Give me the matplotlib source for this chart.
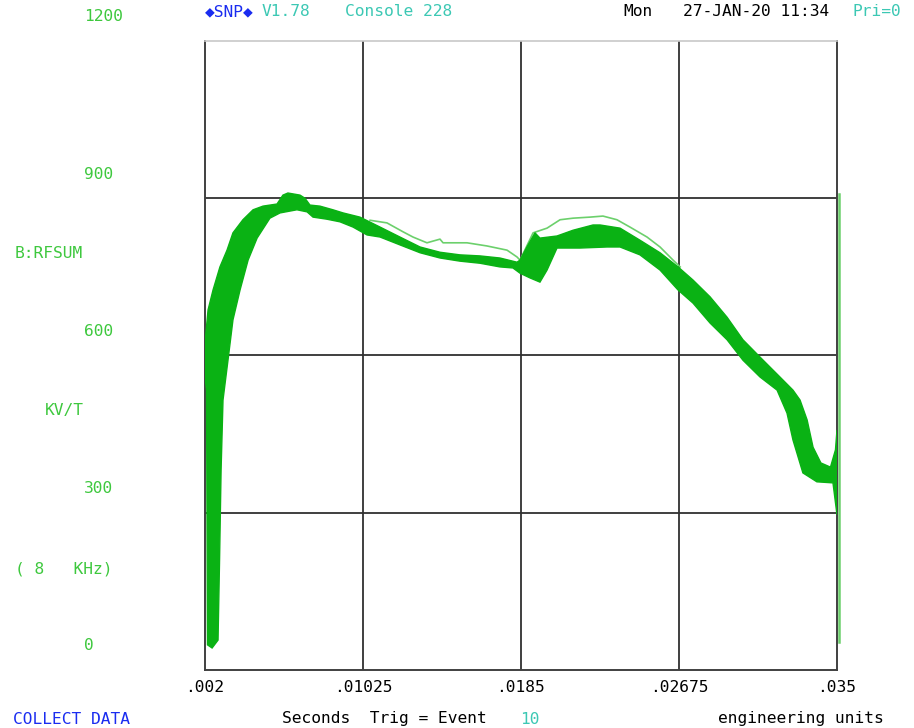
import matplotlib
matplotlib.use("Agg")
import matplotlib.pyplot as plt
from matplotlib.transforms import blended_transform_factory, offset_copy

# ---- data -------------------------------------------------------------
# envelope of the overlaid B:RFSUM traces (seconds, kV/T)
upper_t = [0.00200, 0.00216, 0.00242, 0.00278, 0.00315, 0.00346, 0.00398, 0.00451,
           0.00503, 0.00576, 0.00607, 0.00633, 0.00696, 0.00722, 0.00748, 0.00800,
           0.00868, 0.00921, 0.01009, 0.01114, 0.01218, 0.01323, 0.01427, 0.01531,
           0.01636, 0.01740, 0.01829, 0.01845, 0.01881, 0.01923, 0.01949, 0.02038,
           0.02122, 0.02226, 0.02263, 0.02367, 0.02471, 0.02576, 0.02670, 0.02748,
           0.02837, 0.02926, 0.03009, 0.03098, 0.03202, 0.03270, 0.03307, 0.03344,
           0.03375, 0.03416, 0.03466, 0.03492, 0.03500]
upper_v = [624, 687, 725, 769, 801, 834, 859, 878,
           885, 889, 906, 910, 906, 900, 887, 885,
           878, 872, 864, 845, 826, 807, 797, 792,
           790, 786, 778, 782, 807, 834, 824, 828,
           839, 849, 849, 843, 820, 796, 769, 744,
           712, 673, 630, 597, 559, 534, 515, 477,
           425, 395, 387, 420, 458]

lower_t = [0.00200, 0.00208, 0.00213, 0.00237, 0.00268, 0.00276, 0.00284, 0.00294,
           0.00320, 0.00346, 0.00383, 0.00425, 0.00472, 0.00539, 0.00592, 0.00680,
           0.00733, 0.00764, 0.00837, 0.00905, 0.00973, 0.01046, 0.01114, 0.01218,
           0.01323, 0.01427, 0.01531, 0.01636, 0.01740, 0.01808, 0.01845, 0.01897,
           0.01949, 0.01986, 0.02038, 0.02158, 0.02299, 0.02367, 0.02471, 0.02576,
           0.02670, 0.02748, 0.02837, 0.02926, 0.03009, 0.03098, 0.03187, 0.03239,
           0.03270, 0.03322, 0.03395, 0.03479, 0.03500]
lower_v = [559, 534, 48, 42, 57, 210, 382, 515,
           591, 668, 725, 782, 824, 862, 872, 878,
           874, 864, 860, 855, 845, 830, 826, 811,
           796, 786, 780, 776, 769, 767, 757, 748,
           740, 763, 805, 805, 807, 807, 792, 763,
           725, 700, 662, 630, 591, 559, 534, 490,
           439, 376, 359, 357, 296]

# one outlying trace that rides above the bundle
outlier_t = [0.01062, 0.01150, 0.01234, 0.01286, 0.01359, 0.01427, 0.01443, 0.01568,
             0.01672, 0.01777, 0.01829, 0.01845, 0.01913, 0.01986, 0.02054, 0.02122,
             0.02210, 0.02278, 0.02351, 0.02419, 0.02508, 0.02576, 0.02644, 0.02681]
outlier_v = [858, 853, 836, 826, 815, 822, 815, 815,
             809, 801, 788, 782, 834, 843, 859, 862,
             864, 866, 859, 845, 826, 807, 782, 769]

# end-of-cycle vertical marker
marker_t = [0.03510, 0.03510]
marker_v = [908, 53]

x_ticks = [0.002, 0.01025, 0.0185, 0.02675, 0.035]
x_tick_labels = [".002", ".01025", ".0185", ".02675", ".035"]
y_ticks = [0, 300, 600, 900, 1200]
y_tick_labels = ["0", "300", "600", "900", "1200"]

# ---- styling ------------------------------------------------------------
BAND = "#0ab214"
THIN = "#6cd06c"
LABEL_GREEN = "#3ec83e"
TEAL = "#3cc8b4"
BLUE = "#1a2cf0"
MONO = ["DejaVu Sans Mono", "DejaVu Sans"]
FS = 11.7

W, H = 914, 728
fig = plt.figure(figsize=(W / 100, H / 100), dpi=100)
fig.patch.set_facecolor("white")

ax = fig.add_axes([205 / W, 1 - 670 / H, 632 / W, 629 / H])
ax.set_xlim(x_ticks[0], x_ticks[-1])
ax.set_ylim(y_ticks[0], y_ticks[-1])

# grid
for t in x_ticks[1:-1]:
    ax.axvline(t, color="#303030", lw=1.3, zorder=1)
for v in y_ticks[1:-1]:
    ax.axhline(v, color="#303030", lw=1.3, zorder=1)
for side in ["left", "right", "bottom"]:
    ax.spines[side].set_color("#404040")
    ax.spines[side].set_linewidth(1.4)
ax.spines["top"].set_color("#c8c8c8")
ax.spines["top"].set_linewidth(1.2)

# trace bundle
poly_t = upper_t + lower_t[::-1]
poly_v = upper_v + lower_v[::-1]
ax.fill(poly_t, poly_v, color=BAND, lw=1.0, edgecolor=BAND, zorder=3)
ax.plot(outlier_t, outlier_v, color=THIN, lw=1.2, zorder=2)
ax.plot(marker_t, marker_v, color=THIN, lw=1.8, zorder=4, clip_on=False)

# x ticks
ax.set_xticks(x_ticks)
ax.set_xticklabels(x_tick_labels, family=MONO, fontsize=FS, color="black")
ax.tick_params(axis="x", length=0, pad=7)
ax.set_yticks([])

# y tick labels sit above their grid lines, at the left margin
ytrans = blended_transform_factory(fig.transFigure, ax.transData)
ytrans = offset_copy(ytrans, fig=fig, x=0, y=24, units="dots")
for v, lab in zip(y_ticks, y_tick_labels):
    fig.text(84 / W, v, lab, transform=ytrans, family=MONO, fontsize=FS,
             color=LABEL_GREEN, ha="left", va="center")


def ftext(x, y, s, color, **kw):
    fig.text(x / W, 1 - y / H, s, family=MONO, fontsize=FS, color=color,
             ha="left", va="center", **kw)


# left axis description
ftext(15, 253, "B:RFSUM", LABEL_GREEN)
ftext(45, 410, "KV/T", LABEL_GREEN)
ftext(15, 569, "( 8   KHz)", LABEL_GREEN)

# header line
ftext(205, 12, "\u25c6SNP\u25c6", BLUE)
ftext(262, 12, "V1.78", TEAL)
ftext(345, 12, "Console 228", TEAL)
ftext(623, 12, "Mon", "black")
ftext(683, 12, "27-JAN-20 11:34", "black")
ftext(852, 12, "Pri=0", TEAL)

# footer line
ftext(13, 719, "COLLECT DATA", BLUE)
ftext(282, 719, "Seconds  Trig = Event", "black")
ftext(520, 719, "10", TEAL)
ftext(718, 719, "engineering units", "black")

fig.savefig("out.png", dpi=100, facecolor="white")
